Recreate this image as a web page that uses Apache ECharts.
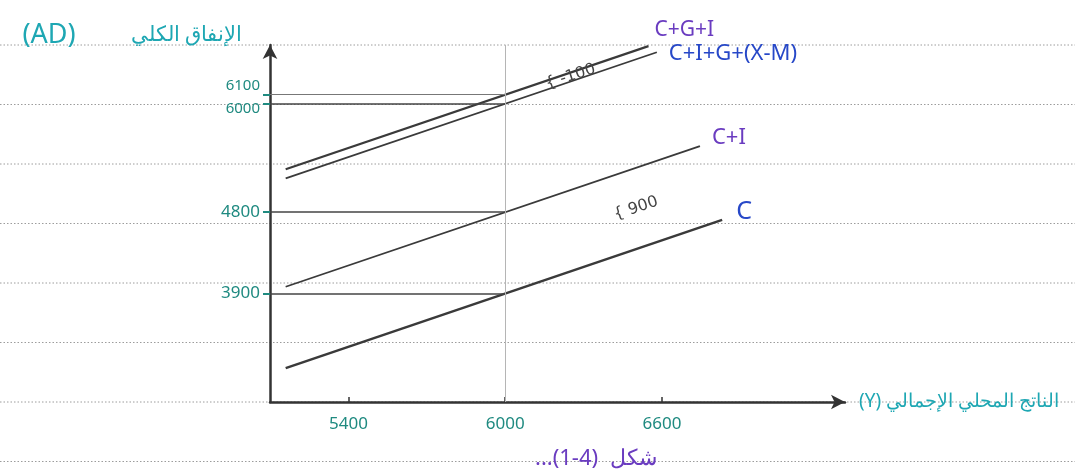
<!DOCTYPE html>
<html>
<head>
<meta charset="utf-8">
<script src="https://cdn.jsdelivr.net/npm/echarts@6/dist/echarts.min.js"></script>
<style>
html,body{margin:0;padding:0;background:#fff;}
#chart{width:1075px;height:476px;}
</style>
</head>
<body>
<div id="chart"></div>
<script>
// ---- data ----
const xTicks = [5400, 6000, 6600];          // الناتج المحلي الإجمالي (Y)
const yTicks = [3900, 4800, 6000, 6100];    // الإنفاق الكلي (AD)
const equilibriumY = 6000;
const lineNames = ['C+G+I', 'C+I+G+(X-M)', 'C+I', 'C'];
const cgiLine = [[5160, 5275], [6548, 6638]];
const adLine  = [[5160, 5175], [6580, 6570]];
const ciLine  = [[5160, 3975], [6745, 5532]];
const cLine   = [[5160, 3075], [6830, 4715]];
const gapLabels = ['-100', '900'];
const gapPoints = [[6250, 6300], [6500, 4843]];
const yAxisTitleLatin = '(AD)';
const yAxisTitleArabic = 'الإنفاق الكلي';
const xAxisTitle = '(Y) الناتج المحلي الإجمالي';
const caption = '...(1-4)  شكل';

const xMin = 5100, xMax = 7300, yMin = 2700, yMax = 6650;

const teal = '#1f8a80', cyan = '#1ea7b3', purple = '#6a3cc0', blue = '#2748c8', ink = '#3a3a3a';
const font = '"Noto Sans", sans-serif';

const chart = echarts.init(document.getElementById('chart'));

const rules = [];
for (let i = 0; i < 8; i++) {
  const y = 45 + i * 59.5;
  rules.push({type:'line', silent:true, z:-10,
    shape:{x1:0, y1:y, x2:1075, y2:y},
    style:{stroke:'#9c9c9c', lineWidth:1, lineDash:[1.5,2]}});
}
rules.push({type:'text', left:535, top:448, silent:true,
  style:{text:caption, fill:purple, font:'22px "Noto Sans", sans-serif'}});

const guideLines = [];
const guideVals = [yTicks[3], yTicks[2], yTicks[1], yTicks[0]];
guideVals.forEach((v, i) => {
  guideLines.push([{coord:[xMin, v], lineStyle:{color: i===0 ? '#777' : '#444', width: i===0 ? 1.2 : 1.6, type:'solid'}}, {coord:[equilibriumY, v]}]);
});
guideLines.push([{coord:[equilibriumY, yMin], lineStyle:{color:'#b5b5b5', width:1, type:'solid'}}, {coord:[equilibriumY, yMax]}]);

function lineSeries(name, data, color, width, size, offset) {
  return {
    name, type:'line', data, symbol:'none', silent:true,
    lineStyle:{color:ink, width},
    endLabel:{show:true, formatter:'{a}', color, fontSize:size,
      fontFamily:font, offset}
  };
}

const series = [
  lineSeries(lineNames[0], cgiLine, purple, 2.2, 21, [-2,-16]),
  lineSeries(lineNames[1], adLine, blue, 1.8, 22, [4, 2]),
  lineSeries(lineNames[2], ciLine, purple, 1.8, 22, [4,-8]),
  lineSeries(lineNames[3], cLine, blue, 2.6, 25, [6,-8])
];
series[3].markLine = {silent:true, symbol:['none','none'], label:{show:false}, data:guideLines, animation:false};
series[0].markPoint = {
  silent:true, symbol:'circle', symbolSize:0,
  data: gapPoints.map((p, i) => ({coord:p, value:gapLabels[i],
    label:{show:true, formatter: () => '{ ' + gapLabels[i], color:'#444', fontSize:16,
      rotate: 18, fontFamily:'"DejaVu Sans", sans-serif'}}))
};

chart.setOption({
  animation:false,
  backgroundColor:'#fff',
  graphic: rules,
  grid:{left:270, right:230, top:45, bottom:74},
  xAxis:{
    type:'value', min:xMin, max:xMax,
    splitLine:{show:false},
    axisLine:{show:true, symbol:['none','arrow'], symbolSize:[11,14], lineStyle:{color:'#333', width:2.5}},
    axisTick:{show:true, customValues:xTicks, inside:true, length:5, lineStyle:{color:'#333', width:1.5}},
    axisLabel:{customValues:xTicks, color:teal, fontSize:17, margin:14, fontFamily:font,
      formatter: v => String(v)},
    name:xAxisTitle, nameLocation:'end', nameGap:14,
    nameTextStyle:{color:cyan, fontSize:19, fontFamily:font, align:'left', verticalAlign:'middle'}
  },
  yAxis:{
    type:'value', min:yMin, max:yMax,
    splitLine:{show:false},
    axisLine:{show:true, symbol:['none','arrow'], symbolSize:[11,14], lineStyle:{color:'#333', width:2.5}},
    axisTick:{show:true, customValues:yTicks, length:7, lineStyle:{color:teal, width:2}},
    axisLabel:{customValues:yTicks, color:teal, fontSize:17, margin:10, fontFamily:font,
      formatter: v => v === 6100 ? '{u|6100}' : (v === 6000 ? '{d|6000}' : String(v)),
      rich:{u:{color:teal, fontSize:15, padding:[0,0,18,0], fontFamily:font},
            d:{color:teal, fontSize:15, padding:[10,0,0,0], fontFamily:font}}},
    name:'{a|' + yAxisTitleLatin + '}{s|}{b|' + yAxisTitleArabic + '}', nameLocation:'end', nameGap:-4,
    nameTextStyle:{color:cyan, fontFamily:font, align:'right', verticalAlign:'bottom', padding:[0,28,0,0],
      rich:{a:{color:cyan, fontSize:27, fontFamily:font},
            s:{width:55},
            b:{color:cyan, fontSize:21, fontFamily:font}}}
  },
  series
});
</script>
</body>
</html>
